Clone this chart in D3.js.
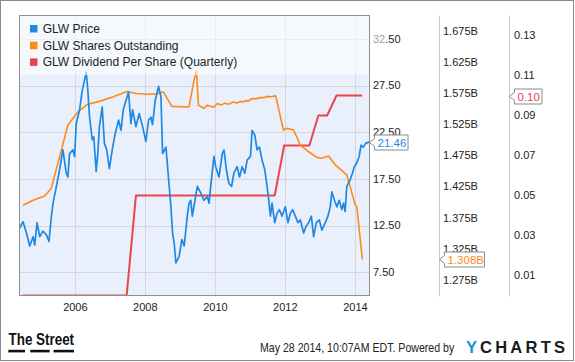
<!DOCTYPE html>
<html>
<head>
<meta charset="utf-8">
<script src="https://cdn.jsdelivr.net/npm/d3@7"></script>
<style>
  body { margin: 0; background: #fff; }
  text { font-family: "Liberation Sans", Arial, sans-serif; }
</style>
</head>
<body>
<div id="chart"></div>
<script>
// GLW weekly-ish price
const priceDates = [
  '2004-05-28','2004-07-04','2004-08-09','2004-09-12','2004-10-17','2004-11-03','2004-11-27','2004-12-25',
  '2005-01-28','2005-03-05','2005-04-01','2005-04-26','2005-05-13','2005-06-17','2005-07-21','2005-08-24',
  '2005-09-28','2005-10-15','2005-11-01','2005-12-06','2005-12-24','2006-01-10','2006-02-14','2006-03-14',
  '2006-04-07','2006-04-24','2006-05-11','2006-05-29','2006-06-26','2006-07-12','2006-08-06','2006-08-23',
  '2006-09-09','2006-10-08','2006-10-31','2006-11-24','2006-12-22','2007-01-25','2007-02-22','2007-03-28',
  '2007-04-22','2007-05-16','2007-06-13','2007-07-10','2007-08-04','2007-08-21','2007-09-25','2007-10-29',
  '2007-12-03','2008-01-07','2008-02-04','2008-02-28','2008-03-16','2008-04-13','2008-05-18','2008-06-12',
  '2008-06-29','2008-08-03','2008-09-06','2008-09-24','2008-10-11','2008-10-28','2008-11-15','2008-12-19',
  '2009-01-16','2009-02-09','2009-03-14','2009-04-01','2009-04-19','2009-05-05','2009-05-23','2009-06-27',
  '2009-08-01','2009-09-05','2009-10-09','2009-10-27','2009-11-13','2009-12-17','2010-01-04','2010-02-08',
  '2010-03-14','2010-04-01','2010-04-25','2010-05-22','2010-06-19','2010-07-13','2010-08-16','2010-09-10',
  '2010-10-07','2010-11-04','2010-11-28','2011-01-02','2011-01-19','2011-02-16','2011-03-12','2011-04-06',
  '2011-05-03','2011-05-31','2011-06-24','2011-07-12','2011-07-29','2011-08-15','2011-09-12','2011-10-06',
  '2011-10-31','2011-11-27','2012-01-01','2012-01-28','2012-02-22','2012-03-17','2012-04-14','2012-05-11',
  '2012-06-05','2012-07-10','2012-08-03','2012-08-31','2012-09-28','2012-10-22','2012-11-19','2012-12-20',
  '2013-01-16','2013-02-21','2013-03-20','2013-04-14','2013-04-30','2013-05-28','2013-06-21','2013-07-16',
  '2013-08-12','2013-08-30','2013-09-16','2013-10-03','2013-11-07','2013-12-01','2013-12-21','2014-01-15',
  '2014-02-09','2014-03-01','2014-03-25','2014-04-18','2014-05-28'
];
const priceValues = [
  12.2, 12.9, 11.7, 10.3, 11.3, 10.4, 12.8, 11.3,
  11.9, 11.5, 10.8, 13.5, 14.9, 16.7, 18.5, 20.6,
  18.1, 17.7, 20.2, 20.6, 19.9, 23.4, 24.9, 27.0,
  28.1, 28.9, 27.0, 24.1, 21.7, 22.0, 18.3, 20.2,
  23.1, 25.2, 21.3, 20.6, 18.6, 20.9, 22.4, 23.8,
  22.7, 24.9, 25.9, 26.8, 23.4, 24.9, 23.1, 24.5,
  23.1, 21.5, 23.8, 24.1, 23.3, 25.9, 27.4, 26.3,
  20.2, 20.9, 16.7, 14.5, 11.7, 10.6, 8.5, 9.2,
  11.0, 10.3, 13.5, 14.9, 15.2, 13.5, 14.6, 16.7,
  16.0, 15.2, 15.6, 14.9, 16.7, 19.9, 18.8, 17.7,
  20.2, 20.6, 18.5, 17.0, 16.7, 18.1, 18.8, 17.7,
  18.8, 18.1, 19.5, 19.9, 22.7, 22.2, 20.6, 20.9,
  19.5, 18.5, 16.7, 15.2, 13.5, 14.9, 12.8, 13.8,
  14.2, 13.5, 14.5, 12.8, 13.8, 14.2, 13.5, 12.8,
  13.1, 11.7, 12.4, 12.8, 13.5, 11.3, 12.8, 13.1,
  12.0, 12.8, 13.5, 14.5, 16.1, 15.2, 14.5, 15.2,
  14.2, 14.9, 14.0, 16.7, 17.4, 18.1, 18.8, 19.2,
  19.9, 21.1, 20.9, 21.3, 21.46
];

// shares outstanding, billions
const sharesDates = [
  '2004-07-04','2004-10-17','2005-02-15','2005-04-25','2005-07-21','2005-10-15','2006-01-27','2006-05-11',
  '2006-09-09','2007-01-25','2007-06-24','2007-09-25','2008-01-07','2008-04-20','2008-07-09','2008-10-04',
  '2009-04-01','2009-05-23','2009-06-17','2009-07-08','2009-09-05','2009-10-09','2009-11-05','2009-12-17',
  '2010-01-21','2010-02-28','2010-04-10','2010-05-22','2010-07-03','2010-08-15','2010-09-15','2010-10-15',
  '2010-11-15','2010-12-15','2011-01-19','2011-02-26','2011-04-15','2011-05-20','2011-06-24','2011-08-01',
  '2011-09-22','2011-12-12','2012-01-16','2012-03-27','2012-06-05','2012-08-31','2012-11-25','2013-01-09',
  '2013-03-27','2013-06-05','2013-10-03','2013-11-07','2013-12-29','2014-01-15','2014-03-15'
];
const sharesValues = [
  1.395, 1.403, 1.410, 1.4225, 1.473, 1.524, 1.545, 1.5575,
  1.562, 1.569, 1.578, 1.5746, 1.5735, 1.574, 1.577, 1.554,
  1.553, 1.596, 1.611, 1.556, 1.5506, 1.556, 1.554, 1.553,
  1.5586, 1.556, 1.559, 1.5575, 1.561, 1.5595, 1.562, 1.561,
  1.563, 1.5628, 1.5666, 1.566, 1.568, 1.568, 1.570, 1.5695,
  1.5708, 1.516, 1.5186, 1.516, 1.4918, 1.481, 1.472, 1.4705,
  1.4742, 1.4598, 1.4438, 1.425, 1.3957, 1.393, 1.308
];

// quarterly dividend
const divDates = ['2004-07-04','2007-06-20','2007-09-25','2011-09-12','2011-12-20','2012-09-08',
  '2012-12-10','2013-03-12','2013-06-18','2014-03-12'];
const divValues = [0, 0, 0.05, 0.05, 0.075, 0.075, 0.09, 0.09, 0.10, 0.10];

const yearTicks = [2006, 2008, 2010, 2012, 2014];
const priceTicks = [7.5, 12.5, 17.5, 22.5, 27.5, 32.5];
const sharesTicks = [1.275, 1.325, 1.375, 1.425, 1.475, 1.525, 1.575, 1.625, 1.675];
const divTicks = [0.01, 0.03, 0.05, 0.07, 0.09, 0.11, 0.13];

const seriesNames = ['GLW Price', 'GLW Shares Outstanding', 'GLW Dividend Per Share (Quarterly)'];
const seriesColors = ['#1f88e5', '#ff8a1c', '#e8464c'];

const W = 575, H = 362;
const plot = {left: 19.5, right: 369.5, top: 15.5, bottom: 295.5};
const parse = d3.timeParse('%Y-%m-%d');

const svg = d3.select('#chart').append('svg')
    .attr('width', W)
    .attr('height', H);

svg.append('rect')
    .attr('x', 0.5).attr('y', 0.5)
    .attr('width', W - 2).attr('height', H - 2)
    .attr('fill', '#fff')
    .attr('stroke', '#8a8a8a');

const x = d3.scaleTime()
    .domain([parse('2004-05-28'), parse('2014-05-28')])
    .range([plot.left, plot.right]);
const yPrice = d3.scaleLinear().domain([5, 35]).range([plot.bottom, plot.top]);
const yShares = d3.scaleLinear().domain([1.25, 1.70]).range([plot.bottom, plot.top]);
const yDiv = d3.scaleLinear().domain([0, 0.14]).range([plot.bottom, plot.top]);

// plot background
svg.append('rect')
    .attr('x', plot.left).attr('y', plot.top)
    .attr('width', plot.right - plot.left)
    .attr('height', plot.bottom - plot.top)
    .attr('fill', '#e9effb');

// gridlines
svg.append('g').selectAll('line')
    .data(priceTicks)
    .enter().append('line')
    .attr('x1', plot.left).attr('x2', plot.right)
    .attr('y1', d => Math.round(yPrice(d)) + 0.5)
    .attr('y2', d => Math.round(yPrice(d)) + 0.5)
    .attr('stroke', '#d3d7de');
svg.append('g').selectAll('line')
    .data(yearTicks)
    .enter().append('line')
    .attr('x1', d => Math.round(x(new Date(d, 0, 1))) + 0.5)
    .attr('x2', d => Math.round(x(new Date(d, 0, 1))) + 0.5)
    .attr('y1', plot.top).attr('y2', plot.bottom)
    .attr('stroke', '#d3d7de');

// lines
svg.append('clipPath').attr('id', 'clip')
    .append('rect')
    .attr('x', plot.left).attr('y', plot.top - 1)
    .attr('width', plot.right - plot.left).attr('height', plot.bottom - plot.top + 1);

function drawSeries(dates, values, yScale, color, width) {
    const pts = dates.map((d, i) => ({date: parse(d), value: values[i]}));
    const line = d3.line()
        .x(d => x(d.date))
        .y(d => yScale(d.value));
    svg.append('path')
        .datum(pts)
        .attr('clip-path', 'url(#clip)')
        .attr('fill', 'none')
        .attr('stroke', color)
        .attr('stroke-width', width)
        .attr('stroke-linejoin', 'round')
        .attr('d', line);
}
drawSeries(divDates, divValues, yDiv, seriesColors[2], 2);
drawSeries(sharesDates, sharesValues, yShares, seriesColors[1], 1.6);
drawSeries(priceDates, priceValues, yPrice, seriesColors[0], 1.7);

// price axis labels
svg.append('g').selectAll('text')
    .data(priceTicks)
    .enter().append('text')
    .attr('x', 373)
    .attr('y', d => yPrice(d))
    .attr('dy', '0.35em')
    .attr('font-size', 11)
    .attr('fill', '#222')
    .text(d => d3.format('.2f')(d));

// legend overlay
svg.append('rect')
    .attr('x', plot.left).attr('y', plot.top)
    .attr('width', 386 - plot.left).attr('height', 75 - plot.top)
    .attr('fill', '#fff')
    .attr('fill-opacity', 0.55);

const legend = svg.append('g').selectAll('g')
    .data(seriesNames)
    .enter().append('g')
    .attr('transform', (d, i) => 'translate(30,' + (28.7 + i * 16.7) + ')');
legend.append('rect')
    .attr('x', 0).attr('y', -3.7)
    .attr('width', 7.5).attr('height', 7.5)
    .attr('fill', (d, i) => seriesColors[i]);
legend.append('text')
    .attr('x', 12.7)
    .attr('dy', '0.35em')
    .attr('font-size', 12)
    .attr('fill', '#222')
    .text(d => d);

// plot frame
svg.append('rect')
    .attr('x', plot.left).attr('y', plot.top)
    .attr('width', plot.right - plot.left)
    .attr('height', plot.bottom - plot.top)
    .attr('fill', 'none')
    .attr('stroke', '#8f8f8f');

// separators of the extra axes
svg.append('g').selectAll('line')
    .data([439.5, 509.5])
    .enter().append('line')
    .attr('x1', d => d).attr('x2', d => d)
    .attr('y1', plot.top).attr('y2', plot.bottom + 1)
    .attr('stroke', '#c9c9c9');

svg.append('g').selectAll('text')
    .data(sharesTicks)
    .enter().append('text')
    .attr('x', 443)
    .attr('y', d => yShares(d))
    .attr('dy', '0.35em')
    .attr('font-size', 11)
    .attr('fill', '#222')
    .text(d => d3.format('.3f')(d) + 'B');

svg.append('g').selectAll('text')
    .data(divTicks)
    .enter().append('text')
    .attr('x', 514)
    .attr('y', d => yDiv(d))
    .attr('dy', '0.35em')
    .attr('font-size', 11)
    .attr('fill', '#222')
    .text(d => d3.format('.2f')(d));

// year labels
svg.append('g').selectAll('text')
    .data(yearTicks)
    .enter().append('text')
    .attr('x', d => x(new Date(d, 0, 1)))
    .attr('y', 307)
    .attr('dy', '0.35em')
    .attr('text-anchor', 'middle')
    .attr('font-size', 11)
    .attr('fill', '#222')
    .text(d => d);

// last value callouts
function callout(tipX, yc, w, label, color) {
    const bx = tipX + 5, top = yc - 7.5, bottom = yc + 7.5;
    svg.append('path')
        .attr('d', 'M' + tipX + ',' + yc + 'L' + bx + ',' + (yc - 4) + 'L' + bx + ',' + top +
            'L' + (bx + w) + ',' + top + 'L' + (bx + w) + ',' + bottom + 'L' + bx + ',' + bottom +
            'L' + bx + ',' + (yc + 4) + 'Z')
        .attr('fill', '#fff')
        .attr('stroke', '#8a8a8a');
    svg.append('text')
        .attr('x', bx + 3)
        .attr('y', yc)
        .attr('dy', '0.36em')
        .attr('font-size', 11.5)
        .attr('fill', color)
        .text(label);
}
const lastPrice = priceValues[priceValues.length - 1];
const lastShares = sharesValues[sharesValues.length - 1];
const lastDiv = divValues[divValues.length - 1];
callout(369.5, Math.round(yPrice(lastPrice)) + 0.5, 33.5, d3.format('.2f')(lastPrice), seriesColors[0]);
callout(439.5, Math.round(yShares(lastShares)) + 0.5, 40, d3.format('.3f')(lastShares) + 'B', seriesColors[1]);
callout(509.5, Math.round(yDiv(lastDiv)) + 0.5, 27.5, d3.format('.2f')(lastDiv), seriesColors[2]);

// footer: squeezed fonts to mimic the narrow logo/credit type
svg.append('text')
    .attr('transform', 'translate(8.5,345) scale(0.79,1)')
    .attr('font-size', 17)
    .attr('font-weight', 'bold')
    .attr('fill', '#111')
    .text('The Street');
svg.append('g').selectAll('rect')
    .data([[8.3, 25], [30.3, 49.7], [53.5, 74]])
    .enter().append('rect')
    .attr('x', d => d[0]).attr('y', 349.8)
    .attr('width', d => d[1] - d[0]).attr('height', 2.6)
    .attr('fill', '#111');

svg.append('text')
    .attr('transform', 'translate(260,352.3) scale(1,1.22)')
    .attr('font-size', 10.6)
    .attr('fill', '#222')
    .text('May 28 2014, 10:07AM EDT. Powered by');

// YCHARTS logo
svg.append('text')
    .attr('x', 466).attr('y', 353.3)
    .attr('font-size', 16.5)
    .attr('font-weight', 'bold')
    .attr('fill', '#1b8fd9')
    .text('Y');
svg.append('text')
    .attr('x', 480).attr('y', 353.3)
    .attr('font-size', 16.5)
    .attr('font-weight', 'bold')
    .attr('textLength', 85)
    .attr('lengthAdjust', 'spacing')
    .attr('fill', '#1a1a1a')
    .text('CHARTS');
</script>
</body>
</html>
